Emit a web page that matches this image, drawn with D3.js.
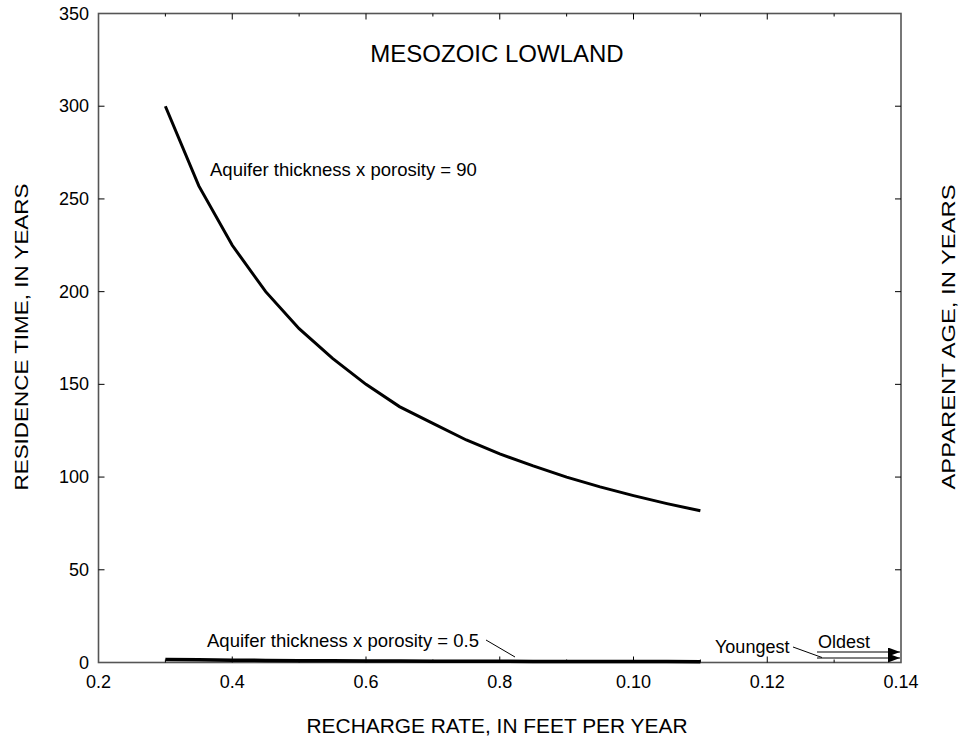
<!DOCTYPE html>
<html>
<head>
    <script src="https://cdnjs.cloudflare.com/ajax/libs/d3/7.8.5/d3.min.js"></script>
    <style>
        body { margin: 0; background: #fff; }
        text { font-family: "Liberation Sans", Arial, sans-serif; }
    </style>
</head>
<body>
    <div class="diagram"></div>
    <script>
        // data
        var rate = [0.3, 0.35, 0.4, 0.45, 0.5, 0.55, 0.6, 0.65, 0.7, 0.75, 0.8, 0.85, 0.9, 0.95, 1.0, 1.05, 1.1];
        var time90 = [300, 257, 225, 200, 180, 164, 150, 138, 129, 120, 112.5, 106, 100, 94.7, 90, 85.7, 81.8];
        var time05 = [1.67, 1.43, 1.25, 1.11, 1.0, 0.91, 0.83, 0.77, 0.71, 0.67, 0.63, 0.59, 0.56, 0.53, 0.5, 0.48, 0.45];
        var xTicks = [0.2, 0.4, 0.6, 0.8, 1.0, 1.2, 1.4];
        var xTickLabels = ["0.2", "0.4", "0.6", "0.8", "0.10", "0.12", "0.14"];
        var xMinor = [0.3, 0.5, 0.7, 0.9, 1.1, 1.3];
        var yTicks = [0, 50, 100, 150, 200, 250, 300, 350];

        var w = 964, h = 740;
        // plot box (note: "top" is reserved in the browser, so m-prefixed)
        var mLeft = 98.5, mRight = 901, mTop = 13.5, mBottom = 662.5;

        var xScale = d3.scaleLinear().domain([0.2, 1.4]).range([mLeft, mRight]);
        var yScale = d3.scaleLinear().domain([0, 350]).range([mBottom, mTop]);

        var svg = d3.select("div.diagram").append("svg")
            .attr("width", w).attr("height", h);

        svg.append("defs").append("marker")
            .attr("id", "arr")
            .attr("viewBox", "0 0 12 9")
            .attr("refX", 12).attr("refY", 4.5)
            .attr("markerWidth", 12).attr("markerHeight", 9)
            .attr("markerUnits", "userSpaceOnUse")
            .attr("orient", "auto")
            .append("path").attr("d", "M0,0L12,4.5L0,9Z").attr("fill", "#000");

        // frame
        svg.append("rect")
            .attr("x", mLeft).attr("y", mTop)
            .attr("width", mRight - mLeft).attr("height", mBottom - mTop)
            .attr("fill", "none").attr("stroke", "#555").attr("stroke-width", 1.6);

        // ticks, all pointing inward
        var tk = svg.append("g").attr("stroke", "#000").attr("stroke-width", 1);
        xTicks.slice(1, -1).forEach(function(d) {
            tk.append("line").attr("x1", xScale(d)).attr("x2", xScale(d)).attr("y1", mBottom).attr("y2", mBottom - 6);
            tk.append("line").attr("x1", xScale(d)).attr("x2", xScale(d)).attr("y1", mTop).attr("y2", mTop + 6);
        });
        xMinor.forEach(function(d) {
            tk.append("line").attr("x1", xScale(d)).attr("x2", xScale(d)).attr("y1", mBottom).attr("y2", mBottom - 3);
            tk.append("line").attr("x1", xScale(d)).attr("x2", xScale(d)).attr("y1", mTop).attr("y2", mTop + 3);
        });
        yTicks.slice(1, -1).forEach(function(d) {
            tk.append("line").attr("x1", mLeft).attr("x2", mLeft + 6).attr("y1", yScale(d)).attr("y2", yScale(d));
            tk.append("line").attr("x1", mRight).attr("x2", mRight - 6).attr("y1", yScale(d)).attr("y2", yScale(d));
        });

        // tick labels
        svg.selectAll("text.xt")
            .data(xTicks)
            .enter().append("text")
            .attr("class", "xt")
            .attr("x", function(d) { return xScale(d); })
            .attr("y", 688)
            .attr("text-anchor", "middle")
            .attr("font-size", "18px")
            .text(function(d, i) { return xTickLabels[i]; });

        svg.selectAll("text.yt")
            .data(yTicks)
            .enter().append("text")
            .attr("class", "yt")
            .attr("x", 89)
            .attr("y", function(d) { return yScale(d) + 6; })
            .attr("text-anchor", "end")
            .attr("font-size", "18px")
            .text(function(d) { return d; });

        // curves
        var line = d3.line()
            .x(function(d) { return xScale(d[0]); })
            .y(function(d) { return yScale(d[1]); });

        svg.append("path")
            .datum(d3.zip(rate, time90))
            .attr("d", line)
            .attr("fill", "none").attr("stroke", "#000").attr("stroke-width", 3);

        svg.append("path")
            .datum(d3.zip(rate, time05))
            .attr("d", line)
            .attr("fill", "none").attr("stroke", "#000").attr("stroke-width", 3.5);

        // annotations
        svg.append("text").attr("x", 497).attr("y", 62)
            .attr("text-anchor", "middle").attr("font-size", "24px")
            .text("MESOZOIC LOWLAND");

        svg.append("text").attr("x", 210).attr("y", 176)
            .attr("font-size", "18.5px")
            .text("Aquifer thickness x porosity = 90");

        svg.append("text").attr("x", 207).attr("y", 646.5)
            .attr("font-size", "18.5px")
            .text("Aquifer thickness x porosity = 0.5");
        svg.append("line").attr("x1", 486).attr("y1", 640).attr("x2", 515).attr("y2", 657)
            .attr("stroke", "#000").attr("stroke-width", 1);

        svg.append("text").attr("x", 715).attr("y", 653)
            .attr("font-size", "18px").text("Youngest");
        svg.append("line").attr("x1", 793).attr("y1", 647).attr("x2", 822).attr("y2", 657.5)
            .attr("stroke", "#000").attr("stroke-width", 1);
        svg.append("line").attr("x1", 817).attr("y1", 658).attr("x2", 900).attr("y2", 658)
            .attr("stroke", "#000").attr("stroke-width", 1).attr("marker-end", "url(#arr)");

        svg.append("text").attr("x", 818).attr("y", 648)
            .attr("font-size", "18px").text("Oldest");
        svg.append("line").attr("x1", 817).attr("y1", 652).attr("x2", 900).attr("y2", 652)
            .attr("stroke", "#000").attr("stroke-width", 1).attr("marker-end", "url(#arr)");

        // axis titles
        svg.append("text").attr("x", 497).attr("y", 733)
            .attr("text-anchor", "middle").attr("font-size", "20px")
            .attr("textLength", 381).attr("lengthAdjust", "spacingAndGlyphs")
            .text("RECHARGE RATE, IN FEET PER YEAR");

        svg.append("text")
            .attr("transform", "translate(28,337) rotate(-90)")
            .attr("text-anchor", "middle").attr("font-size", "19px")
            .attr("textLength", 307).attr("lengthAdjust", "spacingAndGlyphs")
            .text("RESIDENCE TIME, IN YEARS");

        svg.append("text")
            .attr("transform", "translate(955,337) rotate(-90)")
            .attr("text-anchor", "middle").attr("font-size", "19px")
            .attr("textLength", 305).attr("lengthAdjust", "spacingAndGlyphs")
            .text("APPARENT AGE, IN YEARS");
    </script>
</body>
</html>
